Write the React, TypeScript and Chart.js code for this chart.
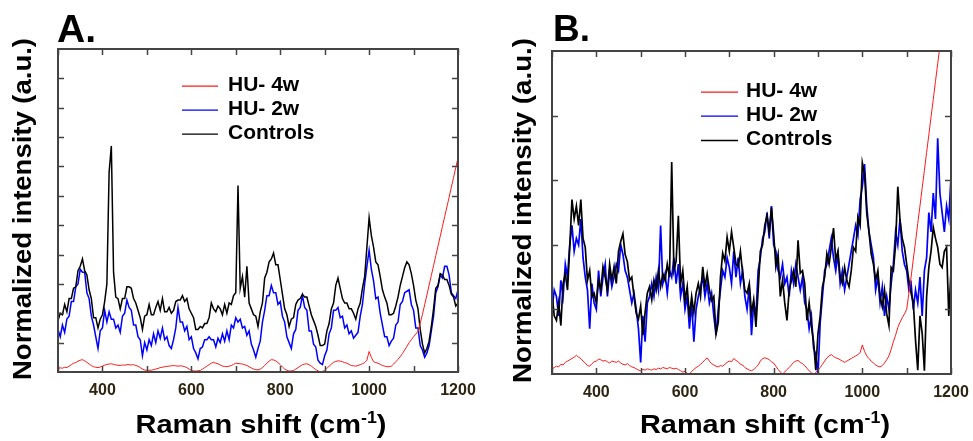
import React, { useEffect, useRef } from 'react';
import { Chart, registerables } from 'chart.js';

Chart.register(...registerables);

// ---------- data ----------
const RAMAN_START = 300;
const RAMAN_END = 1200;
const RAMAN_STEP = 5;

const X_TICK_MARKS = [300, 400, 500, 600, 700, 800, 900, 1000, 1100, 1200];
const X_TICK_LABELS = [400, 600, 800, 1000, 1200];
const SERIES_LABELS = ['HU- 4w', 'HU- 2w', 'Controls'];
const SERIES_COLORS = ['#ff1a1a', '#0000ff', '#000000'];

// Panel A (normalized intensity, a.u.)
const A_HU4W = [
  0.12, 0.14, 0.13, 0.16, 0.15, 0.2, 0.25, 0.3, 0.32, 0.37,
  0.4, 0.42, 0.38, 0.33, 0.27, 0.22, 0.18, 0.16, 0.15, 0.17,
  0.2, 0.23, 0.26, 0.27, 0.28, 0.26, 0.24, 0.23, 0.22, 0.24,
  0.23, 0.25, 0.25, 0.24, 0.25, 0.22, 0.2, 0.15, 0.1, 0.07,
  0.05, 0.06, 0.06, 0.08, 0.1, 0.12, 0.15, 0.16, 0.18, 0.19,
  0.2, 0.21, 0.22, 0.21, 0.2, 0.21, 0.2, 0.18, 0.15, 0.1,
  0.05, 0.04, 0.03, 0.04, 0.05, 0.1, 0.15, 0.2, 0.25, 0.3,
  0.33, 0.3, 0.28, 0.24, 0.2, 0.19, 0.18, 0.2, 0.22, 0.26,
  0.3, 0.29, 0.28, 0.27, 0.25, 0.22, 0.18, 0.14, 0.1, 0.08,
  0.07, 0.1, 0.15, 0.22, 0.3, 0.37, 0.42, 0.41, 0.38, 0.32,
  0.25, 0.17, 0.1, 0.06, 0.03, 0.04, 0.05, 0.1, 0.15, 0.2,
  0.25, 0.27, 0.28, 0.25, 0.2, 0.14, 0.08, 0.04, 0.0, 0.02,
  0.05, 0.12, 0.2, 0.27, 0.33, 0.36, 0.38, 0.37, 0.35, 0.32,
  0.3, 0.26, 0.22, 0.21, 0.2, 0.22, 0.25, 0.28, 0.32, 0.4,
  0.7, 0.5, 0.35, 0.32, 0.3, 0.26, 0.22, 0.2, 0.18, 0.18,
  0.2, 0.27, 0.35, 0.43, 0.52, 0.63, 0.75, 0.87, 1.0, 1.1,
  1.2, 1.29, 1.38, 1.67, 1.96, 2.29, 2.62, 2.96, 3.29, 3.62,
  3.96, 4.29, 4.62, 4.96, 5.29, 5.62, 5.95, 6.29, 6.62, 6.96,
  7.29,
];
const A_HU2W = [
  1.45, 1.2, 1.6, 1.35, 1.8, 1.9, 2.4, 2.4, 2.9, 3.0,
  3.5, 3.4, 3.4, 2.7, 2.5, 1.9, 1.6, 1.2, 0.8, 1.4,
  1.5, 2.1, 1.7, 2.05, 1.8, 1.8, 1.5, 1.6, 1.35, 1.9,
  2.0, 2.45, 2.2, 2.1, 1.6, 1.6, 1.2, 1.1, 0.55, 1.0,
  0.75, 1.1, 0.9, 1.3, 1.0, 1.4, 1.15, 1.5, 1.1, 1.2,
  0.9, 0.8, 1.1, 1.5, 2.2, 1.7, 1.7, 1.4, 1.55, 1.1,
  1.2, 0.8, 0.65, 0.45, 0.8, 0.85, 1.1, 1.1, 1.2, 1.1,
  1.1, 0.85, 1.15, 1.0, 1.3, 1.05, 1.4, 1.1, 1.6, 1.5,
  1.85, 1.7, 1.8, 1.5, 1.55, 1.25, 1.4, 0.95, 0.75, 0.5,
  0.8, 1.05, 1.7, 2.1, 2.6, 2.6, 2.95, 2.7, 2.7, 2.3,
  2.4, 1.9, 1.7, 1.2, 1.0, 0.8, 1.3, 1.45, 2.1, 2.2,
  2.6, 2.2, 2.1, 1.4, 1.4, 0.95, 0.85, 0.4, 0.3, 0.25,
  0.55, 0.75, 1.3, 1.5, 2.1, 2.1, 2.2, 1.85, 1.9, 1.5,
  1.6, 1.3, 1.4, 1.15, 1.25, 1.35, 1.9, 2.3, 3.0, 3.6,
  4.15, 3.5, 3.1, 2.5, 2.55, 2.0, 1.6, 1.2, 1.2, 0.9,
  1.05, 1.15, 1.6, 1.7, 2.3, 2.4, 2.7, 2.75, 2.8, 2.3,
  2.1, 1.5, 1.5, 0.9, 0.75, 0.5, 0.65, 0.9, 1.4, 1.9,
  2.7, 2.9, 3.3, 3.2, 3.6, 3.6, 3.3, 2.7, 2.6, 2.5,
  2.8,
];
const A_CONTROLS = [
  1.75, 2.0, 1.95, 2.3, 2.05, 2.5, 2.5, 2.85, 2.9, 3.45,
  3.6, 3.85, 3.45, 3.3, 2.8, 2.5, 1.85, 1.85, 1.5, 1.8,
  1.95, 2.4, 3.0, 6.8, 7.7, 3.4, 2.55, 2.5, 2.15, 2.5,
  2.5, 2.9, 2.9, 2.85, 2.5, 2.35, 2.1, 1.85, 1.45, 1.9,
  1.95, 2.3, 1.95, 1.95, 2.2, 2.4, 2.1, 2.5, 2.05, 2.05,
  2.2, 2.0, 2.1, 2.4, 2.45, 2.45, 2.6, 2.4, 2.5, 2.15,
  2.0, 1.85, 1.45, 1.45, 1.55, 1.5, 1.65, 1.65, 1.85, 2.35,
  2.15, 2.05, 2.25, 2.15, 1.95, 2.3, 2.0, 2.35, 2.3, 2.6,
  2.7, 6.35, 2.85, 3.25, 2.55, 3.6, 2.35, 2.15, 1.95, 1.9,
  1.55, 2.05, 2.35, 3.2, 3.4, 3.75, 3.85, 4.05, 3.65, 3.65,
  3.15, 2.65, 2.15, 1.95, 1.55, 1.8, 1.85, 2.3, 2.45, 2.5,
  2.65, 2.55, 2.55, 2.25, 1.95, 1.75, 1.55, 1.25, 0.9, 0.9,
  0.95, 1.4, 1.65, 2.15, 2.35, 2.95, 3.2, 2.85, 2.5, 2.35,
  2.35, 2.15, 2.15, 2.0, 1.8, 2.15, 2.35, 2.85, 3.25, 4.25,
  5.25, 4.65, 4.25, 3.75, 3.65, 3.25, 2.8, 2.55, 2.35, 1.95,
  1.95, 2.0, 2.25, 2.55, 2.95, 3.25, 3.55, 3.75, 3.65, 3.35,
  2.95, 2.45, 2.15, 1.45, 0.95, 0.65, 0.8, 1.05, 1.55, 2.15,
  2.85, 2.95, 3.35, 3.3, 3.15, 3.15, 2.95, 2.65, 2.55, 2.25,
  2.35,
];

// Panel B (normalized intensity, a.u.)
const B_HU4W = [
  0.08, 0.1, 0.12, 0.11, 0.15, 0.14, 0.18, 0.2, 0.22, 0.24,
  0.26, 0.29, 0.26, 0.24, 0.2, 0.17, 0.13, 0.12, 0.16, 0.19,
  0.2, 0.23, 0.22, 0.2, 0.21, 0.19, 0.17, 0.2, 0.19, 0.18,
  0.2, 0.17, 0.15, 0.14, 0.16, 0.13, 0.11, 0.1, 0.08, 0.06,
  0.05, 0.07, 0.06, 0.08, 0.07, 0.06, 0.08, 0.07, 0.09, 0.08,
  0.1, 0.09, 0.08, 0.1, 0.09, 0.08, 0.09, 0.07, 0.05, 0.03,
  0.04, 0.01, 0.0, 0.04, 0.07, 0.1, 0.12, 0.15, 0.18, 0.22,
  0.25, 0.2, 0.16, 0.14, 0.12, 0.11, 0.13, 0.12, 0.15, 0.18,
  0.2, 0.19, 0.24, 0.21, 0.19, 0.15, 0.14, 0.1, 0.08, 0.06,
  0.05, 0.07, 0.1, 0.14, 0.2, 0.24, 0.25, 0.24, 0.22, 0.19,
  0.17, 0.12, 0.07, 0.03, 0.0, 0.03, 0.07, 0.1, 0.14, 0.18,
  0.2, 0.21, 0.18, 0.16, 0.13, 0.09, 0.05, 0.02, 0.0, 0.02,
  0.06, 0.1, 0.15, 0.2, 0.25, 0.28, 0.3, 0.27, 0.25, 0.24,
  0.22, 0.2, 0.18, 0.2, 0.22, 0.24, 0.26, 0.28, 0.3, 0.33,
  0.45, 0.35, 0.28, 0.24, 0.2, 0.17, 0.14, 0.12, 0.11, 0.13,
  0.17, 0.22, 0.28, 0.38, 0.5, 0.6, 0.72, 0.8, 0.87, 0.93,
  1.0, 1.25, 1.5, 1.78, 2.05, 2.33, 2.6, 2.88, 3.15, 3.43,
  3.7, 3.98, 4.25, 4.53, 4.8, 5.08, 5.35, 5.63, 5.9, 6.18,
  6.45,
];
const B_HU2W = [
  1.0, 1.3, 1.2, 0.9, 1.45, 1.2, 1.7, 1.5, 2.0, 2.3,
  1.9, 2.1, 2.0, 2.4, 1.8, 1.5, 1.3, 0.7, 1.4, 1.1,
  1.0, 1.6, 1.2, 1.5, 1.7, 1.2, 1.6, 1.35, 1.5, 1.7,
  1.6, 2.0, 1.85, 1.6, 1.5, 1.3, 1.1, 1.25, 1.0, 0.7,
  0.18, 0.9, 0.5, 1.1, 1.2, 1.4, 1.2, 1.5, 1.3, 2.3,
  1.4, 1.55, 1.25, 1.6, 1.5, 1.8, 1.4, 1.7, 1.2, 1.4,
  1.0, 1.2, 0.7, 1.1, 0.5, 1.0, 1.2, 1.35, 1.5, 1.2,
  1.4, 1.1, 1.25, 0.9, 0.6, 1.0, 1.3, 1.6, 1.5, 1.8,
  1.65, 1.4, 1.9, 1.5, 1.8, 1.4, 1.6, 1.2, 1.0, 1.35,
  0.6, 1.1, 0.9, 1.6, 1.8, 2.1, 2.2, 2.5, 2.1, 2.6,
  2.0, 1.9, 1.6, 1.5, 1.7, 1.4, 1.5, 1.2, 1.6, 1.4,
  1.7, 1.5, 1.3, 1.5, 1.1, 1.0, 0.7, 0.9, 0.4, 0.3,
  0.0, 0.8, 1.2, 1.6, 1.7, 1.9, 2.1, 1.8, 1.6, 1.85,
  1.4, 1.6, 1.3, 1.5, 1.7, 1.9, 2.1, 2.3, 2.15, 2.7,
  2.9, 3.25, 2.6, 2.2, 2.0, 1.8, 1.3, 1.5, 1.1, 1.35,
  0.9, 1.2, 1.0, 1.4, 1.7, 2.2, 2.0, 2.4, 1.9, 1.7,
  1.6, 1.3, 1.4, 1.0, 1.3, 1.1, 1.5, 0.9, 1.6, 1.8,
  2.5, 2.2, 2.8, 2.4, 3.65, 2.8, 2.5, 2.2, 2.6, 2.4,
  3.05,
];
const B_CONTROLS = [
  1.25, 0.9, 0.83, 1.1, 0.75, 1.4, 1.55, 1.3, 1.96, 2.7,
  2.4, 2.6, 2.3, 2.7, 2.1, 1.96, 1.45, 1.6, 1.19, 1.25,
  1.1, 1.45, 1.3, 1.66, 1.5, 1.3, 1.7, 1.45, 1.66, 1.4,
  1.9, 2.05, 2.17, 1.85, 1.74, 1.45, 1.5, 1.2, 0.94, 0.85,
  1.05, 0.6, 0.95, 1.25, 1.35, 1.15, 1.45, 1.3, 1.6, 1.35,
  1.55, 1.45, 1.7, 1.5, 3.28, 1.6, 1.75, 2.45, 1.4, 1.6,
  1.14, 1.35, 0.88, 1.2, 0.95, 1.25, 1.4, 1.2, 1.66, 1.35,
  1.55, 1.3, 1.14, 1.2, 0.62, 0.8, 1.5, 1.87, 1.75, 2.12,
  1.9, 2.2, 1.96, 1.7, 1.66, 1.9, 1.56, 1.3, 1.25, 1.4,
  0.94, 1.15, 0.73, 1.3, 1.9, 2.0, 2.3, 2.45, 2.2, 2.58,
  2.17, 1.66, 1.85, 1.2, 1.45, 1.1, 0.83, 1.3, 1.45, 1.6,
  1.35, 2.07, 1.56, 1.6, 1.4, 0.83, 1.1, 0.75, 0.5, 0.06,
  0.63, 0.9, 1.35, 1.5, 1.86, 1.7, 1.96, 2.26, 1.76, 1.9,
  1.5, 1.4, 1.65, 1.45, 1.35, 1.6, 1.96, 1.9, 2.43, 2.3,
  3.27, 3.1, 2.48, 2.2, 1.86, 1.7, 1.45, 1.6, 1.2, 1.04,
  1.3, 0.93, 0.75, 1.65, 1.6, 2.0, 2.9, 2.38, 2.1, 1.96,
  1.7, 1.45, 1.25, 1.1, 0.52, 0.06, 0.9, 0.63, 0.05, 1.2,
  1.65, 1.9, 2.27, 2.1, 1.96, 1.7, 1.65, 1.9, 1.96, 0.9,
  1.6,
];

const RAMAN_SHIFTS: number[] = [];
for (let v = RAMAN_START; v <= RAMAN_END; v += RAMAN_STEP) RAMAN_SHIFTS.push(v);

// ---------- drawing ----------
const FONT = "'Liberation Sans', Arial, Helvetica, sans-serif";

type PanelCfg = {
  letter: string;
  letterFont: number;
  letterX: number;
  letterBase: number;
  width: number;
  pad: { left: number; top: number; right: number; bottom: number };
  yMax: number;
  series: number[][];
  lineWidths: number[];
  legendLineX0: number;
  legendLineX1: number;
  legendTextX: number;
  legendBase: number[];
  yTitleBaseX: number;
  yTitleCenterY: number;
  yTitleLen: number;
  xTitleCenterX: number;
  xTitleBase: number;
  xTitleLen: number;
  tickLabelY: number;
};

function makeDecor(cfg: PanelCfg) {
  return {
    id: 'decor' + cfg.letter,
    afterDraw(chart: any) {
      const ctx: CanvasRenderingContext2D = chart.ctx;
      const area = chart.chartArea;
      const xs = chart.scales.x;
      const ys = chart.scales.y;
      ctx.save();

      // ticks (inward)
      ctx.strokeStyle = '#444';
      ctx.lineWidth = 1.5;
      const tl = 6;
      ctx.beginPath();
      X_TICK_MARKS.forEach((v) => {
        const px = Math.round(xs.getPixelForValue(v)) + 0.5;
        ctx.moveTo(px, area.bottom);
        ctx.lineTo(px, area.bottom - tl);
        ctx.moveTo(px, area.top);
        ctx.lineTo(px, area.top + tl);
      });
      for (let v = 1; v < cfg.yMax; v++) {
        const py = Math.round(ys.getPixelForValue(v)) + 0.5;
        ctx.moveTo(area.left, py);
        ctx.lineTo(area.left + tl, py);
        ctx.moveTo(area.right, py);
        ctx.lineTo(area.right - tl, py);
      }
      ctx.stroke();

      // frame
      ctx.strokeStyle = '#444';
      ctx.lineWidth = 2;
      ctx.strokeRect(area.left, area.top, area.right - area.left, area.bottom - area.top);

      // tick labels
      ctx.fillStyle = '#2d2412';
      ctx.font = `bold 16px ${FONT}`;
      ctx.textAlign = 'center';
      ctx.textBaseline = 'middle';
      X_TICK_LABELS.forEach((v) => {
        ctx.fillText(String(v), xs.getPixelForValue(v), cfg.tickLabelY);
      });

      // panel letter
      ctx.fillStyle = '#000';
      ctx.textAlign = 'left';
      ctx.textBaseline = 'alphabetic';
      ctx.font = `bold ${cfg.letterFont}px ${FONT}`;
      ctx.fillText(cfg.letter, cfg.letterX, cfg.letterBase);

      // legend
      ctx.font = `bold 21px ${FONT}`;
      SERIES_LABELS.forEach((lab, i) => {
        const base = cfg.legendBase[i];
        ctx.strokeStyle = SERIES_COLORS[i];
        ctx.lineWidth = 1.3;
        ctx.beginPath();
        ctx.moveTo(cfg.legendLineX0, base - 4.5);
        ctx.lineTo(cfg.legendLineX1, base - 4.5);
        ctx.stroke();
        ctx.fillStyle = '#000';
        ctx.fillText(lab, cfg.legendTextX, base);
      });

      // y title (rotated, stretched to length)
      ctx.save();
      ctx.font = `bold 25px ${FONT}`;
      const yt = 'Normalized intensity (a.u.)';
      const yw = ctx.measureText(yt).width;
      ctx.translate(cfg.yTitleBaseX, cfg.yTitleCenterY);
      ctx.rotate(-Math.PI / 2);
      ctx.scale(cfg.yTitleLen / yw, 1);
      ctx.textAlign = 'center';
      ctx.fillText(yt, 0, 0);
      ctx.restore();

      // x title with superscript
      ctx.save();
      const big = `bold 26px ${FONT}`;
      const small = `bold 16px ${FONT}`;
      const p1 = 'Raman shift (cm';
      const p2 = '-1';
      const p3 = ')';
      ctx.font = big;
      const w1 = ctx.measureText(p1).width;
      const w3 = ctx.measureText(p3).width;
      ctx.font = small;
      const w2 = ctx.measureText(p2).width;
      const tot = w1 + w2 + w3;
      const sx = cfg.xTitleLen / tot;
      ctx.translate(cfg.xTitleCenterX - cfg.xTitleLen / 2, cfg.xTitleBase);
      ctx.scale(sx, 1);
      ctx.textAlign = 'left';
      ctx.font = big;
      ctx.fillText(p1, 0, 0);
      ctx.font = small;
      ctx.fillText(p2, w1, -10);
      ctx.font = big;
      ctx.fillText(p3, w1 + w2, 0);
      ctx.restore();

      ctx.restore();
    },
  };
}

const PANEL_A: PanelCfg = {
  letter: 'A.',
  letterFont: 39,
  letterX: 57,
  letterBase: 41.5,
  width: 490,
  pad: { left: 58, top: 49, right: 32, bottom: 69 },
  yMax: 11,
  series: [A_HU4W, A_HU2W, A_CONTROLS],
  lineWidths: [1, 1.5, 1.5],
  legendLineX0: 182,
  legendLineX1: 218,
  legendTextX: 228,
  legendBase: [90.7, 114.7, 138.7],
  yTitleBaseX: 31,
  yTitleCenterY: 209,
  yTitleLen: 342,
  xTitleCenterX: 261,
  xTitleBase: 433,
  xTitleLen: 251,
  tickLabelY: 391,
};

const PANEL_B: PanelCfg = {
  letter: 'B.',
  letterFont: 37,
  letterX: 63,
  letterBase: 40.7,
  width: 483,
  pad: { left: 62, top: 51, right: 22, bottom: 67 },
  yMax: 5,
  series: [B_HU4W, B_HU2W, B_CONTROLS],
  lineWidths: [1, 1.7, 1.7],
  legendLineX0: 211,
  legendLineX1: 248,
  legendTextX: 256,
  legendBase: [96.7, 120.7, 145],
  yTitleBaseX: 41,
  yTitleCenterY: 210.5,
  yTitleLen: 345,
  xTitleCenterX: 275,
  xTitleBase: 433,
  xTitleLen: 250,
  tickLabelY: 392.5,
};

const DRAW_ORDER = [0, 2, 1]; // red on top, then controls, then HU-2w

function Panel({ cfg, left }: { cfg: PanelCfg; left: number }) {
  const ref = useRef<HTMLCanvasElement | null>(null);
  useEffect(() => {
    const canvas = ref.current;
    if (!canvas) return;
    const chart = new Chart(canvas, {
      type: 'line',
      data: {
        datasets: cfg.series.map((vals, i) => ({
          label: SERIES_LABELS[i],
          data: RAMAN_SHIFTS.map((x, j) => ({ x, y: vals[j] })),
          borderColor: SERIES_COLORS[i],
          backgroundColor: SERIES_COLORS[i],
          borderWidth: cfg.lineWidths[i],
          borderJoinStyle: 'miter',
          pointRadius: 0,
          tension: 0,
          fill: false,
          order: DRAW_ORDER[i],
        })),
      },
      options: {
        animation: false,
        responsive: false,
        maintainAspectRatio: false,
        events: [],
        layout: { padding: cfg.pad },
        scales: {
          x: { type: 'linear', min: RAMAN_START, max: RAMAN_END, display: false },
          y: { type: 'linear', min: 0, max: cfg.yMax, display: false },
        },
        plugins: {
          legend: { display: false },
          tooltip: { enabled: false },
          title: { display: false },
        },
      },
      plugins: [makeDecor(cfg)],
    } as any);
    return () => chart.destroy();
  }, [cfg]);
  return (
    <canvas
      ref={ref}
      width={cfg.width}
      height={441}
      style={{ position: 'absolute', left, top: 0, width: cfg.width, height: 441 }}
    />
  );
}

export default function App() {
  return (
    <div style={{ position: 'absolute', left: 0, top: 0, width: 973, height: 441, background: '#fff' }}>
      <Panel cfg={PANEL_A} left={0} />
      <Panel cfg={PANEL_B} left={490} />
    </div>
  );
}
